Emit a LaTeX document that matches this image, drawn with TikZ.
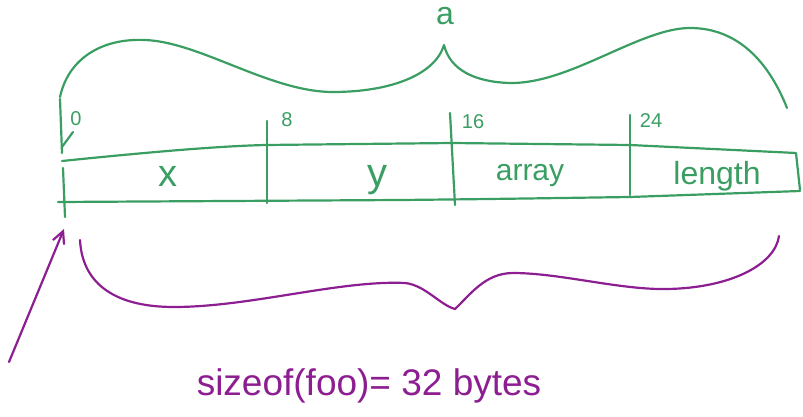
\documentclass[tikz,border=0pt]{standalone}
\usepackage{fontspec}
\setmainfont{Liberation Sans}
\usetikzlibrary{arrows.meta}
\definecolor{pen}{RGB}{58,158,98}
\definecolor{ink}{RGB}{140,30,145}
\begin{document}
\begin{tikzpicture}[x=1pt,y=-1pt,
  gline/.style={draw=pen,line width=2.2pt,line cap=round,line join=round},
  pline/.style={draw=ink,line width=2.2pt,line cap=round,line join=round},
  glabel/.style={text=pen,inner sep=0pt},
  plabel/.style={text=ink,inner sep=0pt}]
\useasboundingbox (0,0) rectangle (803,417);
% top brace
\path[gline] (60,97) .. controls (68,60) and (100,38) .. (145,40)
  .. controls (200,42) and (270,92) .. (333,92)
  .. controls (390,92) and (435,75) .. (444,45)
  .. controls (450,70) and (475,82) .. (510,83)
  .. controls (570,84) and (640,28) .. (690,28)
  .. controls (740,28) and (770,65) .. (787,108);
\node[glabel,font=\fontsize{32}{32}\selectfont,anchor=base,text height=0.55em,text depth=0pt] (a) at (445,25) {a};
% zero arrow
\coordinate (zs) at (60,99);
\coordinate (ze) at (62,153);
\coordinate (zh) at (73,132);
\path[gline] (zs) -- (ze);
\path[gline] (zh) -- (62,147);
% box
\path[gline] (62,161) .. controls (150,152) and (220,146) .. (266,145) -- (452,143) -- (630,145) -- (796,153) -- (800,190);
\path[gline] (58,202) -- (400,200) .. controls (500,199) and (560,198) .. (630,197) -- (800,191);
\path[gline] (63,168) -- (65,217);
\path[gline] (267,121) -- (267,203);
\path[gline] (450,113) -- (455,205);
\path[gline] (630,115) -- (630,195);
% offsets
\node[glabel,font=\fontsize{20}{20}\selectfont] (n0) at (76,119) {0};
\node[glabel,font=\fontsize{20}{20}\selectfont] (n8) at (287,120) {8};
\node[glabel,font=\fontsize{20}{20}\selectfont] (n16) at (473,122) {16};
\node[glabel,font=\fontsize{20}{20}\selectfont] (n24) at (651,121) {24};
% fields
\node[glabel,font=\fontsize{38}{38}\selectfont] (fx) at (168,176) {x};
\node[glabel,font=\fontsize{40}{40}\selectfont] (fy) at (377,180) {y};
\node[glabel,font=\fontsize{30}{30}\selectfont] (farr) at (530,176) {array};
\node[glabel,font=\fontsize{32}{32}\selectfont] (flen) at (717,176) {length};
% bottom brace
\path[pline] (80,240) .. controls (82,280) and (110,307) .. (174,307)
  .. controls (250,307) and (340,280) .. (405,283)
  .. controls (425,285) and (440,305) .. (455,309)
  .. controls (470,295) and (485,273) .. (513,273)
  .. controls (560,273) and (620,290) .. (667,289)
  .. controls (730,288) and (775,265) .. (779,236);
% purple arrow
\coordinate (ps) at (9,362);
\coordinate (pt) at (64,229);
\draw[pline,-{Straight Barb[length=12pt,width=12pt]}] (ps) -- (pt);
\node[plabel,font=\fontsize{37}{37}\selectfont] (size) at (369,386) {sizeof(foo)= 32 bytes};
\end{tikzpicture}
\end{document}
